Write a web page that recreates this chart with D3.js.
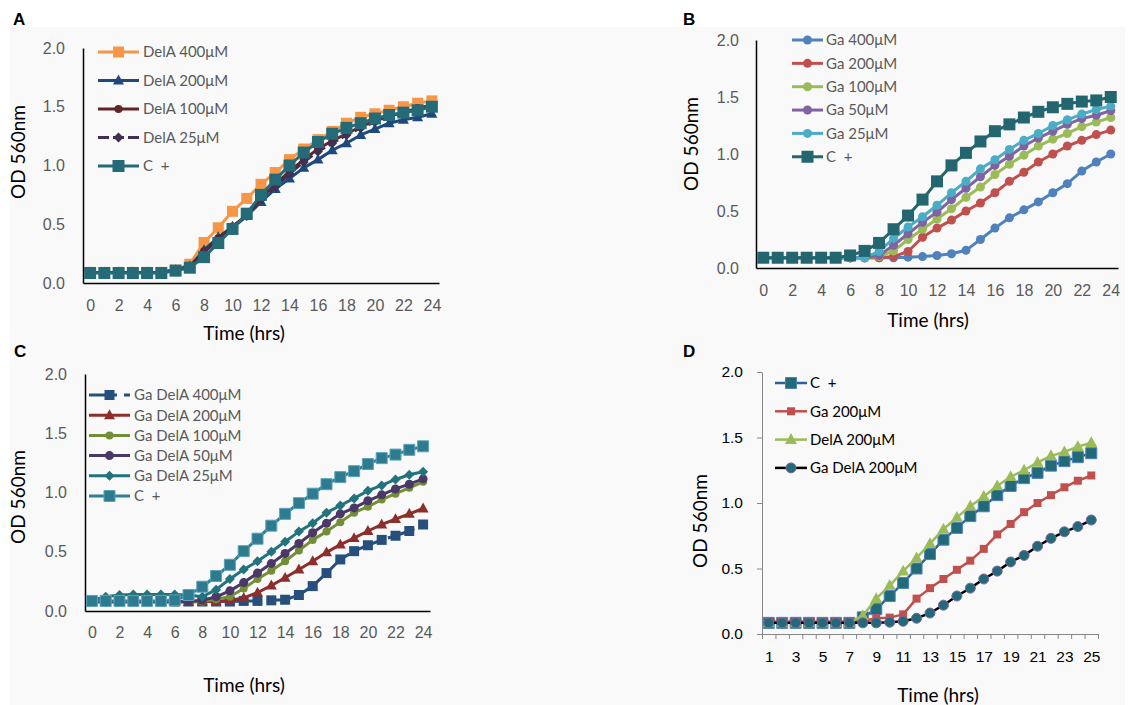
<!DOCTYPE html>
<html>
<head>
<meta charset="utf-8">
<script src="https://cdn.jsdelivr.net/npm/d3@7"></script>
<style>
  body { margin: 0; background: #fff; }
  svg { display: block; font-family: Lato, "Open Sans", sans-serif; }
  svg text { white-space: pre; }
</style>
</head>
<body>
<svg id="chart" width="1130" height="705"></svg>
<script>
// ---- data ----
var hours = [0,1,2,3,4,5,6,7,8,9,10,11,12,13,14,15,16,17,18,19,20,21,22,23,24];
var hoursD = [1,2,3,4,5,6,7,8,9,10,11,12,13,14,15,16,17,18,19,20,21,22,23,24,25];
var odTicks = [0, 0.5, 1, 1.5, 2];

// panel A
var aDelA400 = [0.09,0.09,0.09,0.09,0.09,0.09,0.11,0.16,0.345,0.47,0.61,0.72,0.84,0.94,1.05,1.14,1.22,1.29,1.36,1.41,1.44,1.47,1.50,1.53,1.55];
var aDelA200 = [0.09,0.09,0.09,0.09,0.09,0.09,0.11,0.14,0.28,0.39,0.48,0.57,0.69,0.80,0.89,0.98,1.05,1.13,1.19,1.26,1.31,1.36,1.39,1.41,1.44];
var aDelA100 = [0.09,0.09,0.09,0.09,0.09,0.09,0.11,0.14,0.27,0.38,0.48,0.58,0.72,0.84,0.95,1.05,1.14,1.21,1.27,1.33,1.38,1.42,1.45,1.49,1.51];
var aDelA25  = [0.09,0.09,0.09,0.09,0.09,0.09,0.11,0.14,0.26,0.37,0.47,0.57,0.71,0.82,0.93,1.03,1.12,1.19,1.26,1.32,1.37,1.41,1.44,1.47,1.49];
var aCplus   = [0.085,0.085,0.085,0.085,0.085,0.085,0.105,0.13,0.22,0.34,0.46,0.59,0.75,0.88,1.00,1.11,1.20,1.27,1.32,1.36,1.40,1.43,1.45,1.47,1.50];

// panel B
var bGa400 = [0.09,0.09,0.09,0.09,0.09,0.09,0.09,0.09,0.09,0.09,0.095,0.10,0.11,0.125,0.155,0.25,0.35,0.44,0.51,0.58,0.66,0.74,0.85,0.93,1.00];
var bGa200 = [0.09,0.09,0.09,0.09,0.09,0.09,0.09,0.09,0.09,0.10,0.145,0.27,0.35,0.42,0.50,0.57,0.66,0.76,0.84,0.93,1.00,1.07,1.12,1.17,1.21];
var bGa100 = [0.09,0.09,0.09,0.09,0.09,0.09,0.09,0.09,0.10,0.15,0.25,0.34,0.43,0.52,0.62,0.71,0.82,0.91,0.99,1.07,1.13,1.18,1.24,1.28,1.32];
var bGa50  = [0.09,0.09,0.09,0.09,0.09,0.09,0.09,0.09,0.11,0.20,0.30,0.40,0.49,0.60,0.70,0.80,0.90,0.98,1.07,1.14,1.20,1.26,1.31,1.34,1.38];
var bGa25  = [0.09,0.09,0.09,0.09,0.09,0.09,0.09,0.09,0.145,0.26,0.36,0.45,0.55,0.66,0.76,0.87,0.95,1.04,1.12,1.18,1.25,1.30,1.35,1.39,1.42];
var bCplus = [0.09,0.09,0.09,0.09,0.09,0.09,0.11,0.15,0.22,0.34,0.46,0.60,0.76,0.90,1.01,1.11,1.20,1.26,1.32,1.37,1.41,1.44,1.46,1.47,1.50];

// panel C
var cGaDelA400 = [0.08,0.08,0.08,0.08,0.08,0.08,0.08,0.08,0.08,0.08,0.08,0.085,0.085,0.09,0.095,0.135,0.21,0.32,0.435,0.505,0.555,0.60,0.635,0.675,0.73];
var cGaDelA200 = [0.075,0.075,0.075,0.075,0.075,0.075,0.075,0.075,0.08,0.08,0.09,0.11,0.155,0.215,0.28,0.35,0.42,0.495,0.56,0.615,0.675,0.73,0.775,0.82,0.865];
var cGaDelA100 = [0.08,0.08,0.08,0.08,0.08,0.08,0.08,0.08,0.08,0.10,0.12,0.19,0.27,0.34,0.42,0.51,0.60,0.67,0.75,0.83,0.88,0.94,0.99,1.04,1.09];
var cGaDelA50  = [0.08,0.08,0.08,0.08,0.08,0.08,0.08,0.08,0.09,0.12,0.17,0.24,0.32,0.40,0.485,0.57,0.66,0.74,0.82,0.87,0.93,0.98,1.03,1.07,1.115];
var cGaDelA25  = [0.09,0.12,0.135,0.14,0.14,0.14,0.14,0.135,0.12,0.18,0.27,0.35,0.42,0.50,0.585,0.67,0.74,0.83,0.89,0.95,1.015,1.06,1.11,1.15,1.175];
var cCplus     = [0.085,0.085,0.085,0.085,0.085,0.085,0.09,0.135,0.205,0.295,0.39,0.505,0.61,0.72,0.82,0.91,0.99,1.07,1.13,1.18,1.24,1.29,1.32,1.36,1.39];

// panel D
var dCplus     = [0.085,0.085,0.085,0.085,0.085,0.085,0.085,0.127,0.19,0.29,0.39,0.50,0.61,0.72,0.81,0.90,0.975,1.06,1.13,1.19,1.23,1.285,1.32,1.35,1.38];
var dGa200     = [0.095,0.095,0.095,0.095,0.095,0.095,0.095,0.10,0.12,0.125,0.15,0.27,0.35,0.42,0.49,0.56,0.65,0.76,0.84,0.93,1.00,1.06,1.12,1.17,1.21];
var dDelA200   = [0.085,0.085,0.085,0.085,0.085,0.085,0.085,0.14,0.27,0.37,0.48,0.58,0.69,0.80,0.89,0.975,1.05,1.13,1.20,1.25,1.31,1.36,1.39,1.43,1.46];
var dGaDelA200 = [0.085,0.085,0.085,0.085,0.085,0.085,0.085,0.085,0.085,0.09,0.097,0.12,0.16,0.22,0.29,0.35,0.42,0.48,0.55,0.60,0.67,0.73,0.78,0.82,0.87];

var svg = d3.select("#chart");

// light grey figure background
svg.append("rect").attr("x", 10).attr("y", 27).attr("width", 1115).attr("height", 678).attr("fill", "#f9f9f9");

function marker(shape, s) {
  var r = s / 2;
  if (shape == "square") return "M" + (-r) + "," + (-r) + "h" + s + "v" + s + "h" + (-s) + "Z";
  if (shape == "circle") return d3.symbol(d3.symbolCircle, Math.PI * r * r)();
  if (shape == "triangle") {
    var h = s * 0.9;
    return "M0," + (-h * 0.6) + "L" + r + "," + (h * 0.4) + "L" + (-r) + "," + (h * 0.4) + "Z";
  }
  if (shape == "diamond") return "M0," + (-r) + "L" + r + ",0L0," + r + "L" + (-r) + ",0Z";
}

function drawPanel(p) {
  var g = svg.append("g");

  var x = d3.scalePoint().domain(p.cats).range([p.x0, p.x1]).padding(0.5);
  var y = d3.scaleLinear().domain([0, 2]).range([p.yb, p.yt]);

  // axes
  var xAxis = d3.axisBottom(x)
    .tickValues(p.cats.filter(function(d, i) { return i % 2 == 0; }))
    .tickSize(0).tickSizeOuter(0).tickPadding(p.xPad);
  var yAxis = d3.axisLeft(y).tickValues(odTicks).tickFormat(d3.format(".1f"))
    .tickSize(p.ticks ? 5 : 0).tickSizeOuter(0).tickPadding(p.ticks ? 14 : p.yPad);

  var gx = g.append("g").attr("transform", "translate(0," + p.yb + ")").call(xAxis);
  var gy = g.append("g").attr("transform", "translate(" + p.x0 + ",0)").call(yAxis);

  [gx, gy].forEach(function(a) {
    a.select(".domain").attr("stroke", p.axisColor).attr("stroke-width", p.axisWidth);
    a.selectAll(".tick line").attr("stroke", p.axisColor);
    a.selectAll("text").attr("fill", p.textColor).style("font-size", p.tickFont + "px");
  });

  if (p.ticks) {
    // tick marks between categories
    var xb = d3.scaleLinear().domain([0, p.cats.length]).range([p.x0, p.x1]);
    var gt = g.append("g").attr("transform", "translate(0," + p.yb + ")")
      .call(d3.axisBottom(xb).tickValues(d3.range(0, p.cats.length + 1)).tickFormat("").tickSize(5).tickSizeOuter(0));
    gt.select(".domain").remove();
    gt.selectAll(".tick line").attr("stroke", p.axisColor);
  }

  // axis titles
  g.append("text").attr("x", p.xTitle[0]).attr("y", p.xTitle[1]).attr("text-anchor", "middle")
    .attr("fill", "#000").style("font-size", "19px").text("Time (hrs)");
  g.append("text").attr("transform", "translate(" + p.yTitle[0] + "," + p.yTitle[1] + ") rotate(-90)")
    .attr("text-anchor", "middle").attr("fill", "#000").style("font-size", "19px").text("OD 560nm");

  // panel letter
  g.append("text").attr("x", p.letter[0]).attr("y", p.letter[1])
    .style("font-family", "'Liberation Sans', Arial, sans-serif").style("font-weight", "bold")
    .style("font-size", "17px").attr("fill", "#000").text(p.name);

  // series
  var line = d3.line()
    .x(function(d, i) { return x(p.cats[i]); })
    .y(function(d) { return y(d); });

  p.series.forEach(function(s) {
    g.append("path").attr("d", line(s.values))
      .attr("fill", "none").attr("stroke", s.line).attr("stroke-width", p.lw)
      .attr("stroke-linejoin", "round").attr("stroke-dasharray", s.dash || null);
    g.append("g").selectAll("path").data(s.values).enter().append("path")
      .attr("transform", function(d, i) { return "translate(" + x(p.cats[i]) + "," + y(d) + ")"; })
      .attr("d", marker(s.shape, s.size))
      .attr("fill", s.fill || s.line)
      .attr("stroke", s.edge || "none").attr("stroke-width", 1);
  });

  // legend
  var L = p.legend;
  p.series.forEach(function(s, i) {
    var ly = L.y + i * L.step;
    g.append("line").attr("x1", L.x0).attr("x2", L.x1).attr("y1", ly).attr("y2", ly)
      .attr("stroke", s.line).attr("stroke-width", p.lw).attr("stroke-dasharray", s.dash || null);
    g.append("path").attr("transform", "translate(" + ((L.x0 + L.x1) / 2) + "," + ly + ")")
      .attr("d", marker(s.shape, s.size)).attr("fill", s.fill || s.line)
      .attr("stroke", s.edge || "none").attr("stroke-width", 1);
    g.append("text").attr("x", L.tx).attr("y", ly).attr("dy", "0.36em")
      .attr("fill", p.textColor).style("font-size", "15px").text(s.name);
  });
}

var greyText = "#595959";

drawPanel({
  name: "A", letter: [13, 25], cats: hours,
  x0: 83, x1: 439, yt: 48, yb: 283,
  xPad: 17, yPad: 18, tickFont: 16, lw: 3,
  axisColor: "#000", axisWidth: 1.5, textColor: greyText,
  xTitle: [244, 340], yTitle: [25, 152],
  legend: { x0: 98, x1: 139, tx: 143, y: 52, step: 28.5 },
  series: [
    { name: "DelA 400μM", values: aDelA400, line: "#f79646", shape: "square", size: 11 },
    { name: "DelA 200μM", values: aDelA200, line: "#1f497d", shape: "triangle", size: 11 },
    { name: "DelA 100μM", values: aDelA100, line: "#632523", shape: "circle", size: 8 },
    { name: "DelA 25μM", values: aDelA25, line: "#403152", shape: "diamond", size: 10, dash: "11,4" },
    { name: "C  +", values: aCplus, line: "#256b77", shape: "square", size: 12 }
  ]
});

drawPanel({
  name: "B", letter: [683, 25], cats: hours,
  x0: 756, x1: 1118, yt: 40, yb: 268,
  xPad: 17, yPad: 17, tickFont: 16, lw: 3,
  axisColor: "#000", axisWidth: 1.5, textColor: greyText,
  xTitle: [928, 327], yTitle: [698, 144],
  legend: { x0: 792, x1: 823, tx: 826, y: 40, step: 23.35 },
  series: [
    { name: "Ga 400μM", values: bGa400, line: "#4f81bd", shape: "circle", size: 9 },
    { name: "Ga 200μM", values: bGa200, line: "#c0504d", shape: "circle", size: 9 },
    { name: "Ga 100μM", values: bGa100, line: "#9bbb59", shape: "circle", size: 9 },
    { name: "Ga 50μM", values: bGa50, line: "#8064a2", shape: "circle", size: 9 },
    { name: "Ga 25μM", values: bGa25, line: "#4bacc6", shape: "circle", size: 9 },
    { name: "C  +", values: bCplus, line: "#23666f", shape: "square", size: 12 }
  ]
});

drawPanel({
  name: "C", letter: [14, 357], cats: hours,
  x0: 85, x1: 430, yt: 374, yb: 611,
  xPad: 16, yPad: 18, tickFont: 16, lw: 3,
  axisColor: "#000", axisWidth: 1.5, textColor: greyText,
  xTitle: [244, 692], yTitle: [25, 497],
  legend: { x0: 89, x1: 130, tx: 134, y: 395, step: 20.2 },
  series: [
    { name: "Ga DelA 400μM", values: cGaDelA400, line: "#264f7c", shape: "square", size: 10, dash: "28,7" },
    { name: "Ga DelA 200μM", values: cGaDelA200, line: "#8b2e2c", shape: "triangle", size: 11 },
    { name: "Ga DelA 100μM", values: cGaDelA100, line: "#748e38", shape: "circle", size: 8 },
    { name: "Ga DelA 50μM", values: cGaDelA50, line: "#4a3866", shape: "circle", size: 9 },
    { name: "Ga DelA 25μM", values: cGaDelA25, line: "#23737c", shape: "diamond", size: 10 },
    { name: "C  +", values: cCplus, line: "#2f7f97", fill: "#2e7a8e", edge: "#5aa3bb", shape: "square", size: 11 }
  ]
});

drawPanel({
  name: "D", letter: [683, 357], cats: hoursD, ticks: true,
  x0: 762, x1: 1098, yt: 372, yb: 634,
  xPad: 17, yPad: 19, tickFont: 15.5, lw: 2.5,
  axisColor: "#868686", axisWidth: 1, textColor: "#000",
  xTitle: [938, 702], yTitle: [707, 521],
  legend: { x0: 775, x1: 807, tx: 810, y: 383, step: 28.3 },
  series: [
    { name: "C  +", values: dCplus, line: "#2f5f98", fill: "#226a78", edge: "#4f81bd", shape: "square", size: 11 },
    { name: "Ga 200μM", values: dGa200, line: "#c0504d", shape: "square", size: 8 },
    { name: "DelA 200μM", values: dDelA200, line: "#9bbb59", shape: "triangle", size: 12 },
    { name: "Ga DelA 200μM", values: dGaDelA200, line: "#000", fill: "#226a78", edge: "#8064a2", shape: "circle", size: 10 }
  ]
});
</script>
</body>
</html>
